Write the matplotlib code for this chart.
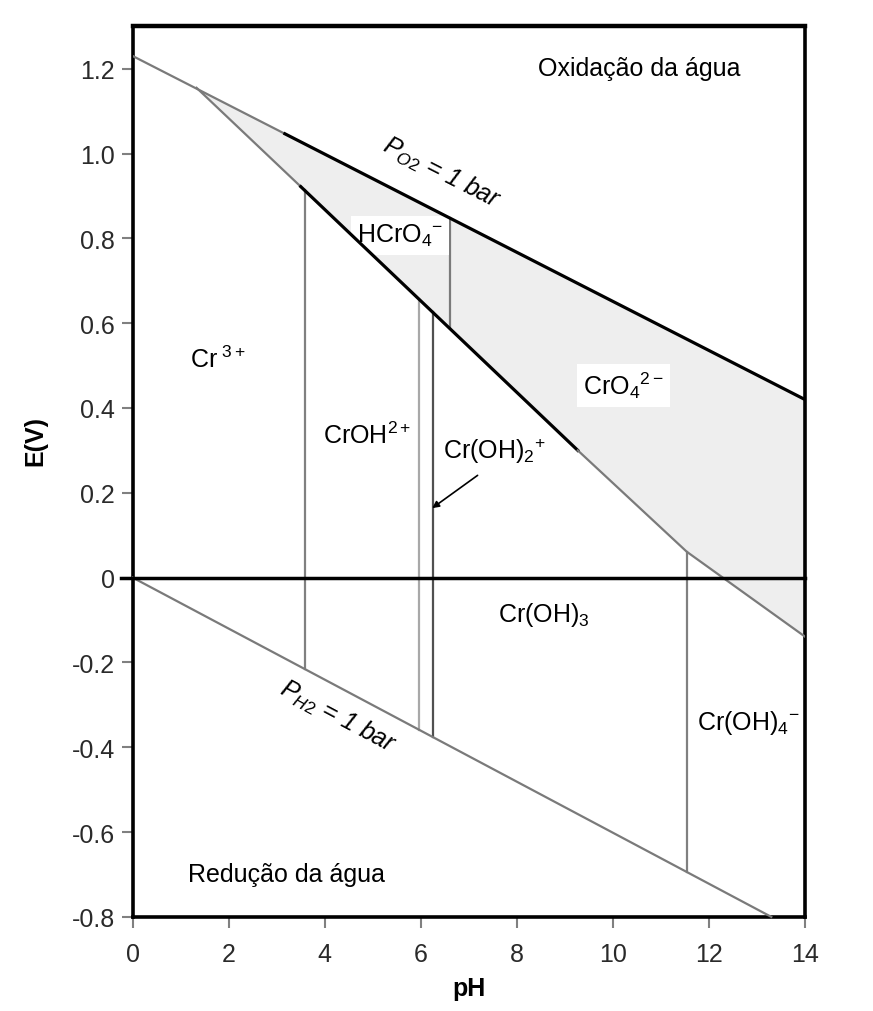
import numpy as np
import matplotlib
matplotlib.use("Agg")
import matplotlib.pyplot as plt

plt.rcParams['font.family'] = ['Liberation Sans', 'DejaVu Sans']
plt.rcParams['mathtext.fontset'] = 'custom'
plt.rcParams['mathtext.rm'] = 'Liberation Sans'
plt.rcParams['mathtext.it'] = 'Liberation Sans:italic'
plt.rcParams['mathtext.default'] = 'regular'

# ── data ───────────────────────────────────────────────────────────────
# water stability lines
o2_ph = [0.0, 14.0]
o2_e = [1.23, 0.42]
h2_ph = [0.0, 13.3]
h2_e = [0.0, -0.80]

# Cr(III) / Cr(VI) boundary
cr_ph = [1.33, 3.50, 9.27, 11.54, 14.0]
cr_e = [1.155, 0.922, 0.300, 0.061, -0.139]

# vertical boundaries: Cr(III) species (diagonal -> H2 line)
v_low_ph = [3.58, 5.96, 6.25, 11.54]
v_low_col = ['#808080', '#a8a8a8', '#505050', '#808080']
# HCrO4- / CrO4 2- (O2 line -> diagonal)
v_up_ph = [6.60]

labels = ['Cr$^{\\ 3+}$', 'CrOH$^{2+}$', 'HCrO$_4$$^{-}$', 'Cr(OH)$_2$$^{+}$',
          'CrO$_4$$^{2-}$', 'Cr(OH)$_3$', 'Cr(OH)$_4$$^{-}$']
label_ph = [1.19, 3.96, 4.67, 6.46, 9.38, 7.60, 11.75]
label_e = [0.515, 0.336, 0.807, 0.301, 0.454, -0.085, -0.34]
label_box = [False, False, True, False, True, False, False]

x_ticks = [0, 2, 4, 6, 8, 10, 12, 14]
y_ticks = [-0.8, -0.6, -0.4, -0.2, 0.0, 0.2, 0.4, 0.6, 0.8, 1.0, 1.2]
y_ticklabels = ['-0.8', '-0.6', '-0.4', '-0.2', '0', '0.2', '0.4', '0.6',
                '0.8', '1.0', '1.2']


def o2_at(ph):
    return np.interp(ph, o2_ph, o2_e)


def h2_at(ph):
    return np.interp(ph, h2_ph, h2_e)


def cr_at(ph):
    return np.interp(ph, cr_ph, cr_e)


fig = plt.figure(figsize=(8.73, 10.12), dpi=100)
ax = fig.add_axes([0.152, 0.093, 0.770, 0.880])
ax.set_xlim(0, 14)
ax.set_ylim(-0.8, 1.3)

GRAY = '#7a7a7a'

# Cr(VI) field
xs = np.linspace(cr_ph[0], 14, 200)
ax.fill_between(xs, cr_at(xs), o2_at(xs), color='#eeeeee', lw=0, zorder=1)

# O2 line: gray at low pH, black after
ax.plot([0, 3.17], [o2_at(0), o2_at(3.17)], color=GRAY, lw=1.6, zorder=3)
ax.plot([3.17, 14], [o2_at(3.17), o2_at(14)], color='black', lw=2.3, zorder=3)

# H2 line
ax.plot(h2_ph, h2_e, color=GRAY, lw=1.6, zorder=3, clip_on=False)

# diagonal Cr(III)/Cr(VI)
ax.plot(cr_ph[:2], cr_e[:2], color=GRAY, lw=1.6, zorder=3)
ax.plot(cr_ph[1:3], cr_e[1:3], color='black', lw=2.3, zorder=3)
ax.plot(cr_ph[2:], cr_e[2:], color=GRAY, lw=1.6, zorder=3)

# vertical boundaries
for ph, c in zip(v_low_ph, v_low_col):
    ax.plot([ph, ph], [cr_at(ph), h2_at(ph)], color=c, lw=1.6, zorder=2)
for ph in v_up_ph:
    ax.plot([ph, ph], [o2_at(ph), cr_at(ph)], color=GRAY, lw=1.6, zorder=2)

# E = 0 line
ax.plot([-0.24, 14], [0, 0], color='black', lw=2.5, zorder=4, clip_on=False)

# species labels
for txt, x, y, box in zip(labels, label_ph, label_e, label_box):
    kw = {}
    if box:
        kw['bbox'] = dict(boxstyle='square,pad=0.25', facecolor='white',
                          edgecolor='none')
    ax.text(x, y, txt, fontsize=18, ha='left', va='center', zorder=2.5, **kw)

ax.text(10.56, 1.202, 'Oxidação da água', fontsize=18, ha='center', va='center')
ax.text(1.15, -0.699, 'Redução da água', fontsize=18, ha='left', va='center')

ax.text(6.44, 0.955, r'$\mathit{P}_{\mathit{O2}}$ = 1 bar', fontsize=18,
        style='italic', rotation=-27, ha='center', va='center', zorder=5)
ax.text(4.27, -0.327, r'$\mathit{P}_{\mathit{H2}}$ = 1 bar', fontsize=18,
        style='italic', rotation=-28, ha='center', va='center', zorder=5)

ax.annotate('', xy=(6.19, 0.16), xytext=(7.23, 0.245),
            arrowprops=dict(arrowstyle='-|>', color='black', lw=1.2,
                            mutation_scale=10))

# axes styling
for side in ['left', 'bottom', 'top', 'right']:
    ax.spines[side].set_linewidth(2.6)
    ax.spines[side].set_color('black')
ax.spines['top'].set_linewidth(3.2)

ax.set_xticks(x_ticks)
ax.set_yticks(y_ticks)
ax.set_yticklabels(y_ticklabels)
ax.tick_params(direction='out', length=8, width=1.5, color='#808080',
               labelsize=18, labelcolor='#2a2a2a', pad=5)
ax.tick_params(axis='x', pad=10)

ax.set_xlabel('pH', fontsize=18, fontweight='bold', labelpad=7)
ax.set_ylabel('E(V)', fontsize=18, fontweight='bold')
ax.yaxis.set_label_coords(-0.127, 0.536)

fig.savefig('out.png', dpi=100)
